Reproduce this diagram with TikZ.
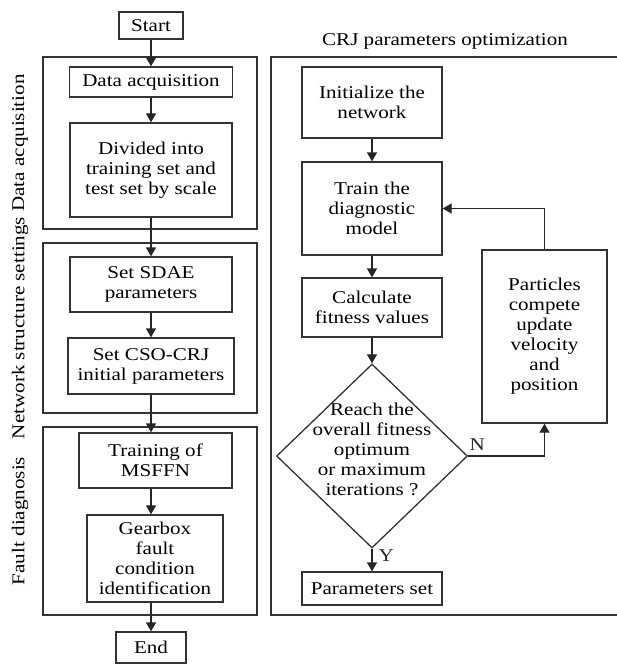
\documentclass[tikz,border=0pt]{standalone}
\usepackage{fontspec}
\setmainfont{Liberation Serif}[FakeStretch=1.17]
\usepackage{tikz}
\usetikzlibrary{positioning, arrows.meta, shapes.geometric}

\begin{document}
\begin{tikzpicture}[
  x=1pt, y=-1pt,
  every node/.style={inner sep=2pt, font=\fontsize{18}{20}\selectfont},
  blk/.style={draw=black!80, line width=1.3pt, align=center},
  grp/.style={draw=black!80, line width=1.3pt},
  side/.style={rotate=90},
  arrow/.style={-{Triangle[length=9pt, width=10pt]}, black!85, line width=1.3pt}
]
\useasboundingbox (0,0) rectangle (617,665);

% Left column: stage frames and their labels
\node[grp, minimum width=214pt, minimum height=172pt] (grpacq) at (150,143) {};
\node[grp, minimum width=214pt, minimum height=170pt] (grpnet) at (150,328) {};
\node[grp, minimum width=214pt, minimum height=188pt] (grpdiag) at (150,521) {};

\node[side] (labacq) at (20,143) {Data acquisition};
\node[side] (labnet) at (20,328) {Network structure settings};
\node[side] (labdiag) at (20,521) {Fault diagnosis};

% Left column: main flow
\node[blk, minimum width=64pt, minimum height=27pt] (start) at (151,25.5) {Start};
\node[blk, minimum width=163pt, minimum height=30pt] (acq) at (151,82) {Data acquisition};
\node[blk, minimum width=162pt, minimum height=94pt] (split) at (151,170) {Divided into\\training set and\\test set by scale};
\node[blk, minimum width=162pt, minimum height=55pt] (sdae) at (151,284.5) {Set SDAE\\parameters};
\node[blk, minimum width=166pt, minimum height=56pt] (csocrj) at (151,366) {Set CSO-CRJ\\initial parameters};
\node[blk, minimum width=153pt, minimum height=55pt] (msffn) at (155.5,460.5) {Training of\\MSFFN};
\node[blk, minimum width=136pt, minimum height=87pt] (gearbox) at (155,558.5) {Gearbox\\fault\\condition\\identification};
\node[blk, minimum width=70pt, minimum height=31pt] (end) at (151,647.5) {End};

\draw[arrow] (start) -- (acq);
\draw[arrow] (acq) -- (split);
\draw[arrow] (split) -- (sdae);
\draw[arrow] (sdae) -- (csocrj);
\draw[arrow] (csocrj.south) -- (csocrj.south |- msffn.north);
\draw[arrow] (msffn.south -| csocrj) -- (gearbox.north -| csocrj);
\draw[arrow] (gearbox.south -| end) -- (end);

% Right column: CRJ parameters optimization
\node (title) at (445,41) {CRJ parameters optimization};
\node[grp, minimum width=347pt, minimum height=558pt] (grpopt) at (444.5,336) {};

\node[blk, minimum width=140pt, minimum height=71pt] (init) at (372,102.5) {Initialize the\\network};
\node[blk, minimum width=140pt, minimum height=93pt] (train) at (372,208.5) {Train the\\diagnostic\\model};
\node[blk, minimum width=140pt, minimum height=59pt] (calc) at (372,307.5) {Calculate\\fitness values};
\node[diamond, draw=black!80, line width=1.3pt, inner sep=0pt,
      minimum width=191pt, minimum height=184pt] (reach) at (372,456)
  {\makebox[0pt]{\smash{\begin{tabular}{@{}c@{}}Reach the\\overall fitness\\optimum\\or maximum\\iterations ?\end{tabular}}}};
\node[blk, minimum width=140pt, minimum height=33pt] (params) at (372,588.5) {Parameters set};
\node[blk, minimum width=125pt, minimum height=173pt] (particles) at (544.5,336.5) {Particles\\compete\\update\\velocity\\and\\position};

\draw[arrow] (init) -- (train);
\draw[arrow] (train) -- (calc);
\draw[arrow] (calc) -- (reach);
\draw[arrow] (reach) -- node[pos=0.32, right=4pt] (yes) {Y} (params);
\draw[arrow] (reach.east) -| node[pos=0.06, above=3pt] (no) {N} (particles.south);
\draw[arrow] (particles.north) |- (train.east);

\end{tikzpicture}
\end{document}
